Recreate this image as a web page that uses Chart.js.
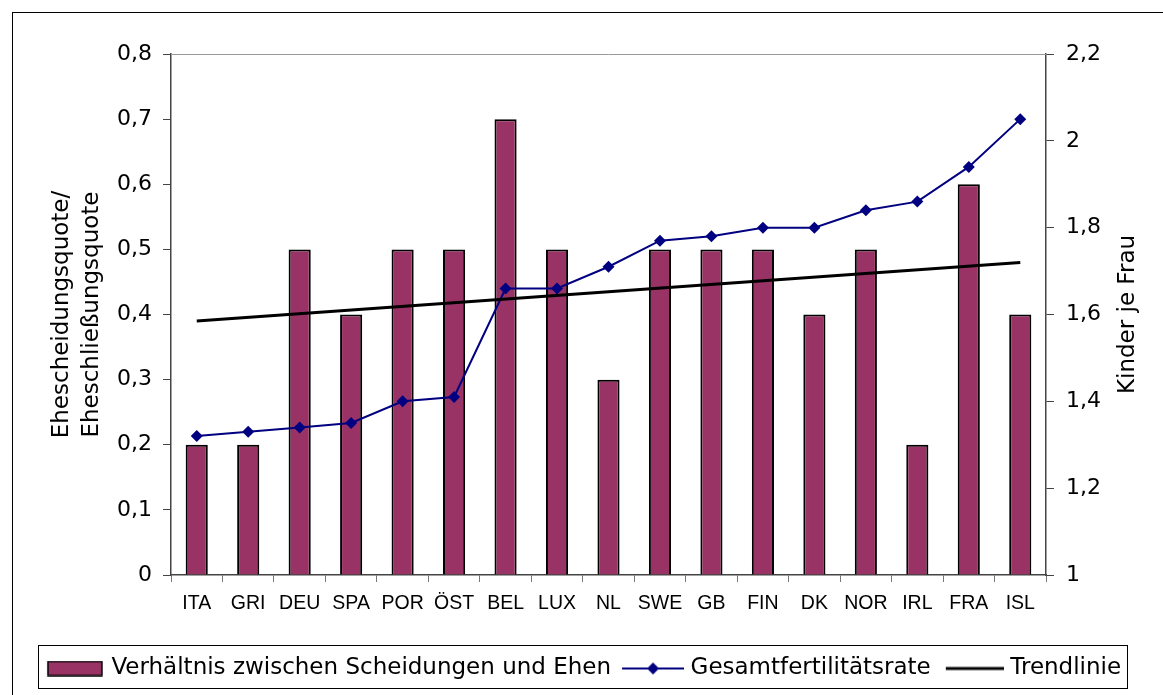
<!DOCTYPE html>
<html>
<head>
<meta charset="utf-8">
<script src="https://cdn.jsdelivr.net/npm/chart.js@4"></script>
<style>
  html, body { margin: 0; padding: 0; background: #fff; }
  #wrap { width: 1163px; height: 695px; }
</style>
</head>
<body>
<div id="wrap"><canvas id="chart" width="1163" height="695"></canvas></div>
<script>
// ===== data =====
const countries = ['ITA','GRI','DEU','SPA','POR','ÖST','BEL','LUX','NL','SWE','GB','FIN','DK','NOR','IRL','FRA','ISL'];
const divorceRatio = [0.2,0.2,0.5,0.4,0.5,0.5,0.7,0.5,0.3,0.5,0.5,0.5,0.4,0.5,0.2,0.6,0.4];
const fertility = [1.32,1.33,1.34,1.35,1.40,1.41,1.66,1.66,1.71,1.77,1.78,1.80,1.80,1.84,1.86,1.94,2.05];
const trend = [0.39,null,null,null,null,null,null,null,null,null,null,null,null,null,null,null,0.48];
const leftTicks = ['0','0,1','0,2','0,3','0,4','0,5','0,6','0,7','0,8'];
const rightTicks = ['1','1,2','1,4','1,6','1,8','2','2,2'];
const seriesNames = ['Verhältnis zwischen Scheidungen und Ehen', 'Gesamtfertilitätsrate', 'Trendlinie'];

const BAR = '#993366';
const NAVY = '#000080';
const FONT = 'DejaVu Sans';

// ===== legend symbols (left padding pulls the text closer) =====
function swatch(w, h, draw) {
    const c = document.createElement('canvas');
    c.width = w; c.height = h;
    draw(c.getContext('2d'));
    return c;
}
const barIcon = swatch(68, 16, ctx => {
    ctx.fillStyle = BAR;
    ctx.fillRect(11, 1, 54, 14);
    ctx.strokeStyle = '#000';
    ctx.lineWidth = 1.5;
    ctx.strokeRect(11, 1, 54, 14);
});
const lineIcon = swatch(68, 14, ctx => {
    ctx.strokeStyle = NAVY;
    ctx.lineWidth = 2;
    ctx.beginPath(); ctx.moveTo(6, 7); ctx.lineTo(68, 7); ctx.stroke();
    ctx.fillStyle = NAVY;
    ctx.beginPath();
    ctx.moveTo(37, 1); ctx.lineTo(43, 7); ctx.lineTo(37, 13); ctx.lineTo(31, 7);
    ctx.closePath(); ctx.fill();
});
const trendIcon = swatch(68, 8, ctx => {
    ctx.strokeStyle = '#000';
    ctx.lineWidth = 3;
    ctx.beginPath(); ctx.moveTo(10, 4); ctx.lineTo(68, 4); ctx.stroke();
});
const icons = [barIcon, lineIcon, trendIcon];

// ===== frame, legend box, right title =====
const decor = {
    id: 'decor',
    beforeDraw(chart) {
        const ctx = chart.ctx;
        ctx.save();
        ctx.fillStyle = '#fff';
        ctx.fillRect(0, 0, chart.width, chart.height);
        ctx.strokeStyle = '#000';
        ctx.lineWidth = 1;
        ctx.strokeRect(12.5, 12.5, 1160, 720);
        ctx.restore();
    },
    afterDraw(chart) {
        const ctx = chart.ctx;
        const a = chart.chartArea;
        ctx.save();
        // top edge of plot area
        ctx.strokeStyle = '#999';
        ctx.lineWidth = 1;
        ctx.beginPath();
        ctx.moveTo(a.left, a.top + 0.5);
        ctx.lineTo(a.right, a.top + 0.5);
        ctx.stroke();
        // legend box
        const lg = chart.legend;
        const boxes = lg.legendHitBoxes;
        if (boxes && boxes.length) {
            const l = Math.min(...boxes.map(b => b.left)) - 4;
            const r = Math.max(...boxes.map(b => b.left + b.width)) + 6;
            ctx.strokeStyle = '#000';
            ctx.strokeRect(Math.round(l) + 0.5, Math.round(lg.top) - 1.5, Math.round(r - l), Math.round(lg.height));
        }
        // right axis title
        ctx.fillStyle = '#000';
        ctx.font = '23px "' + FONT + '"';
        ctx.textAlign = 'center';
        ctx.textBaseline = 'middle';
        ctx.translate(1128, (a.top + a.bottom) / 2);
        ctx.rotate(-Math.PI / 2);
        ctx.fillText('Kinder je Frau', 0, 0);
        ctx.restore();
    }
};

const tickFont = { family: FONT, size: 22 };

new Chart(document.getElementById('chart'), {
    type: 'bar',
    data: {
        labels: countries,
        datasets: [{
            label: seriesNames[0],
            data: divorceRatio,
            backgroundColor: BAR,
            borderColor: '#000',
            borderWidth: 2,
            barPercentage: 0.43,
            categoryPercentage: 1,
            yAxisID: 'y',
            order: 3
        }, {
            type: 'line',
            label: seriesNames[1],
            data: fertility,
            borderColor: NAVY,
            backgroundColor: NAVY,
            borderWidth: 2,
            pointStyle: 'rectRot',
            pointRadius: 6,
            pointBorderWidth: 0,
            tension: 0,
            yAxisID: 'y2',
            order: 2
        }, {
            type: 'line',
            label: seriesNames[2],
            data: trend,
            spanGaps: true,
            borderColor: '#000',
            borderWidth: 3,
            pointRadius: 0,
            yAxisID: 'y',
            order: 1
        }]
    },
    options: {
        responsive: false,
        animation: false,
        events: [],
        layout: { padding: { top: 54, left: 0, right: 0, bottom: 5 } },
        scales: {
            x: {
                grid: { display: true, drawOnChartArea: false, tickLength: 7, color: '#777', offset: true },
                border: { display: true, color: '#444', width: 1.5 },
                ticks: { color: '#000', font: { family: 'Liberation Sans', size: 19.5 }, padding: 10, maxRotation: 0, autoSkip: false },
                afterFit(s) { s.height = 72; }
            },
            y: {
                position: 'left',
                min: 0, max: 0.8,
                ticks: {
                    stepSize: 0.1, color: '#000', font: tickFont, padding: 11,
                    callback: (v, i) => leftTicks[i]
                },
                grid: { drawOnChartArea: false, tickLength: 8, color: '#444' },
                border: { display: true, color: '#444', width: 1.5 },
                title: {
                    display: true,
                    text: ['Ehescheidungsquote/', 'Eheschließungsquote'],
                    color: '#000',
                    font: { family: FONT, size: 23, lineHeight: 1.3 },
                    padding: { top: 47, bottom: 0 }
                },
                afterFit(s) { s.width = 171; }
            },
            y2: {
                position: 'right',
                min: 1, max: 2.2,
                ticks: {
                    stepSize: 0.2, color: '#000', font: tickFont, padding: 12,
                    callback: (v, i) => rightTicks[i]
                },
                grid: { drawOnChartArea: false, tickLength: 8, color: '#444' },
                border: { display: true, color: '#444', width: 1.5 },
                afterFit(s) { s.width = 117; }
            }
        },
        plugins: {
            tooltip: { enabled: false },
            legend: {
                position: 'bottom',
                labels: {
                    usePointStyle: true,
                    pointStyleWidth: 58,
                    boxHeight: 16,
                    padding: 10,
                    color: '#000',
                    font: { family: FONT, size: 23 },
                    generateLabels(chart) {
                        const items = Chart.defaults.plugins.legend.labels.generateLabels(chart);
                        items.sort((a, b) => a.datasetIndex - b.datasetIndex);
                        items.forEach(it => { it.pointStyle = icons[it.datasetIndex]; });
                        return items;
                    }
                }
            }
        }
    },
    plugins: [decor]
});
</script>
</body>
</html>
